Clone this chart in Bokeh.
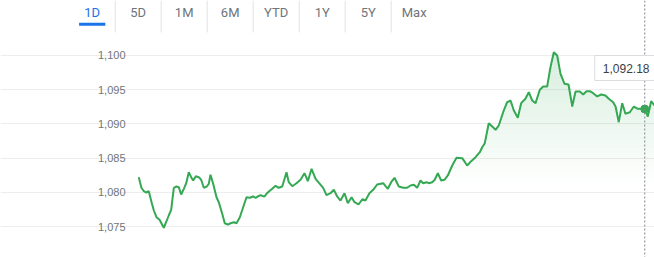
from bokeh.plotting import figure
from bokeh.models import Range1d, FixedTicker, Span, Label, Grid
from bokeh.core.properties import value
from bokeh.embed import file_html
from bokeh.resources import INLINE
import numpy as np

# ---------------- data ----------------
tabs = ["1D", "5D", "1M", "6M", "YTD", "1Y", "5Y", "Max"]
active_tab = "1D"

y_ticks = [1070, 1075, 1080, 1085, 1090, 1095, 1100]

# minutes after the open
minutes = [0.2, 2.2, 4.0, 5.8, 7.7, 9.8, 11.5, 13.5, 15.8, 17.2,
           19.0, 21.0, 22.7, 24.5, 26.5, 28.5, 30.2, 32.0, 34.0, 35.8,
           37.7, 39.5, 41.0, 43.0, 45.2, 47.0, 49.0, 51.2, 52.7, 54.0,
           56.0, 58.5, 60.2, 62.8, 64.7, 67.0, 69.0, 71.5, 73.5, 76.0,
           78.5, 81.0, 83.5, 86.0, 87.8, 89.5, 91.5, 93.0, 94.5, 96.0,
           98.0, 100.3, 102.8, 105.2, 107.8, 111.0, 112.7, 115.3, 118.5, 121.5,
           124.5, 127.0, 129.8, 132.8, 136.0, 138.5, 141.0, 144.0, 146.5, 149.0,
           151.5, 154.5, 157.0, 159.8, 162.0, 165.0, 168.0, 170.2, 173.2, 176.0,
           179.0, 183.5, 187.0, 189.5, 192.0, 195.2, 198.5, 201.5, 204.0, 206.5,
           209.0, 211.5, 213.5, 216.0, 217.7, 220.3, 222.2, 224.5, 227.0, 229.5,
           232.0, 235.3, 238.5, 242.8, 246.5, 249.5, 252.8, 256.0, 257.8, 259.7,
           262.7, 265.3, 267.8, 270.2, 273.5, 276.5, 279.0, 281.5, 284.5, 287.0,
           290.2, 292.7, 295.3, 297.8, 301.0, 303.5, 306.5, 309.0, 311.5, 314.0,
           316.5, 319.5, 322.5, 325.3, 327.8, 331.0, 333.5, 336.0, 338.5, 341.0,
           344.0, 347.0, 350.2, 352.7, 356.0, 357.8, 360.2, 362.8, 365.2, 368.5,
           371.5, 374.5, 377.8, 379.7, 382.0, 384.5, 387.0]

prices = [1082.21, 1080.66, 1080.16, 1079.97, 1080.16, 1078.55, 1077.34, 1076.36, 1075.98, 1075.48,
          1074.81, 1075.77, 1076.61, 1077.44, 1080.66, 1080.85, 1080.75, 1079.68, 1080.51, 1081.33,
          1082.94, 1082.21, 1081.73, 1082.35, 1082.21, 1081.83, 1080.66, 1080.85, 1081.24, 1082.56,
          1081.24, 1079.28, 1078.55, 1076.86, 1075.48, 1075.29, 1075.48, 1075.63, 1075.48, 1076.36,
          1077.82, 1079.28, 1079.20, 1079.39, 1079.20, 1079.39, 1079.58, 1079.46, 1079.39, 1079.78,
          1080.16, 1080.51, 1080.95, 1080.66, 1080.85, 1082.94, 1081.48, 1080.89, 1081.33, 1081.83,
          1082.79, 1081.62, 1083.44, 1081.97, 1081.24, 1080.66, 1079.58, 1079.87, 1080.37, 1079.39,
          1078.80, 1079.87, 1078.41, 1079.28, 1078.55, 1078.22, 1078.99, 1078.80, 1079.87, 1080.37,
          1081.14, 1081.33, 1080.51, 1081.48, 1082.12, 1080.85, 1080.66, 1080.66, 1080.99, 1081.10,
          1080.66, 1081.73, 1081.33, 1081.48, 1081.33, 1081.48, 1081.83, 1082.79, 1081.73, 1081.83,
          1082.46, 1083.92, 1085.04, 1084.99, 1083.92, 1084.55, 1085.13, 1085.86, 1086.59, 1087.18,
          1090.10, 1089.62, 1089.14, 1089.77, 1091.71, 1093.17, 1093.42, 1091.96, 1090.89, 1093.03,
          1093.67, 1094.63, 1093.42, 1093.03, 1094.99, 1095.47, 1095.47, 1098.29, 1100.48, 1100.00,
          1097.32, 1095.86, 1095.76, 1092.54, 1094.74, 1094.74, 1094.30, 1094.78, 1094.78, 1094.49,
          1094.01, 1094.30, 1094.15, 1093.67, 1093.17, 1092.54, 1090.25, 1093.03, 1091.48, 1091.71,
          1092.54, 1092.21, 1092.21, 1092.18, 1091.08, 1093.32, 1092.69]

hover_index = 153

# ---------------- styles ----------------
GREEN = "#34a853"
BLUE = "#1a73e8"
GREY_TXT = "#70757a"
FONT = "Liberation Sans"

X_START, X_END = -103.5, 387.0      # visible time window (minutes)
Y_START, Y_END = 1070.47, 1108.04   # visible price window
AXIS_X = -7.5                        # where the price labels / grid begin

p = figure(width=654, height=257,
           x_range=Range1d(X_START, X_END), y_range=Range1d(Y_START, Y_END),
           output_backend="svg", toolbar_location=None,
           x_axis_location=None, y_axis_location=None,
           min_border=0, min_border_left=0, min_border_right=0,
           min_border_top=0, min_border_bottom=0,
           outline_line_color=None, background_fill_color="white", border_fill_color="white")
p.grid.visible = False

# price grid + labels
ygrid = Grid(dimension=1, ticker=FixedTicker(ticks=y_ticks), bounds=(AXIS_X, X_END),
             grid_line_color="#ededed", grid_line_width=1)
p.add_layout(ygrid)
p.text(x=AXIS_X, y=y_ticks, text=[f"{t:,}" for t in y_ticks], x_offset=-3,
       text_align="right", text_baseline="middle", text_font=value(FONT),
       text_font_size="11px", text_color=GREY_TXT)

# ---------------- tab bar (own ranges) ----------------
p.extra_x_ranges = {"tabs": Range1d(-1.9935, 12.2239)}
p.extra_y_ranges = {"tabs_y": Range1d(257, 0)}
tab_idx = np.arange(len(tabs))
tab_colors = [BLUE if t == active_tab else GREY_TXT for t in tabs]
p.text(x=tab_idx, y=12, text=tabs, text_color=tab_colors, text_font=value("Roboto"),
       text_font_size="13px", text_align="center", text_baseline="middle",
       x_range_name="tabs", y_range_name="tabs_y")
p.segment(x0=tab_idx[:-1] + 0.5, y0=0, x1=tab_idx[:-1] + 0.5, y1=32,
          line_color="#e3e3e3", line_width=1, x_range_name="tabs", y_range_name="tabs_y")
p.rect(x=[tabs.index(active_tab)], y=23.8, width=0.57, height=3, fill_color=BLUE,
       line_color=None, x_range_name="tabs", y_range_name="tabs_y")

# ---------------- price line ----------------
t = np.array(minutes)
v = np.array(prices)

lo_band, step = 1081.0, 0.5
levels = np.arange(lo_band, 1101.5, step)
for lo in levels:
    hi = lo + step
    top = np.clip(v, lo, hi)
    if np.all(top <= lo):
        continue
    a = 0.2 * ((lo + hi) / 2 - lo_band) / (1101.0 - lo_band)
    p.varea(x=t, y1=lo, y2=top, fill_color=GREEN, fill_alpha=float(max(a, 0.0)))

p.line(t, v, line_color=GREEN, line_width=2)

span = Span(location=minutes[hover_index], dimension="height", line_color="#80868b",
            line_dash="2 2", line_width=1)
p.add_layout(span)

p.scatter([minutes[hover_index]], [prices[hover_index]], size=8, fill_color=GREEN, line_color=GREEN)

label = Label(x=minutes[hover_index], y=1098.17, x_offset=-18.6,
              text=f"{prices[hover_index]:,.2f}", text_align="center", text_baseline="middle",
              text_font=FONT, text_font_size="12px", text_color="#3c4043",
              background_fill_color="white", border_line_color="#dadce0", padding=8)
p.add_layout(label)

open("out.html", "w").write(file_html(p, INLINE))
